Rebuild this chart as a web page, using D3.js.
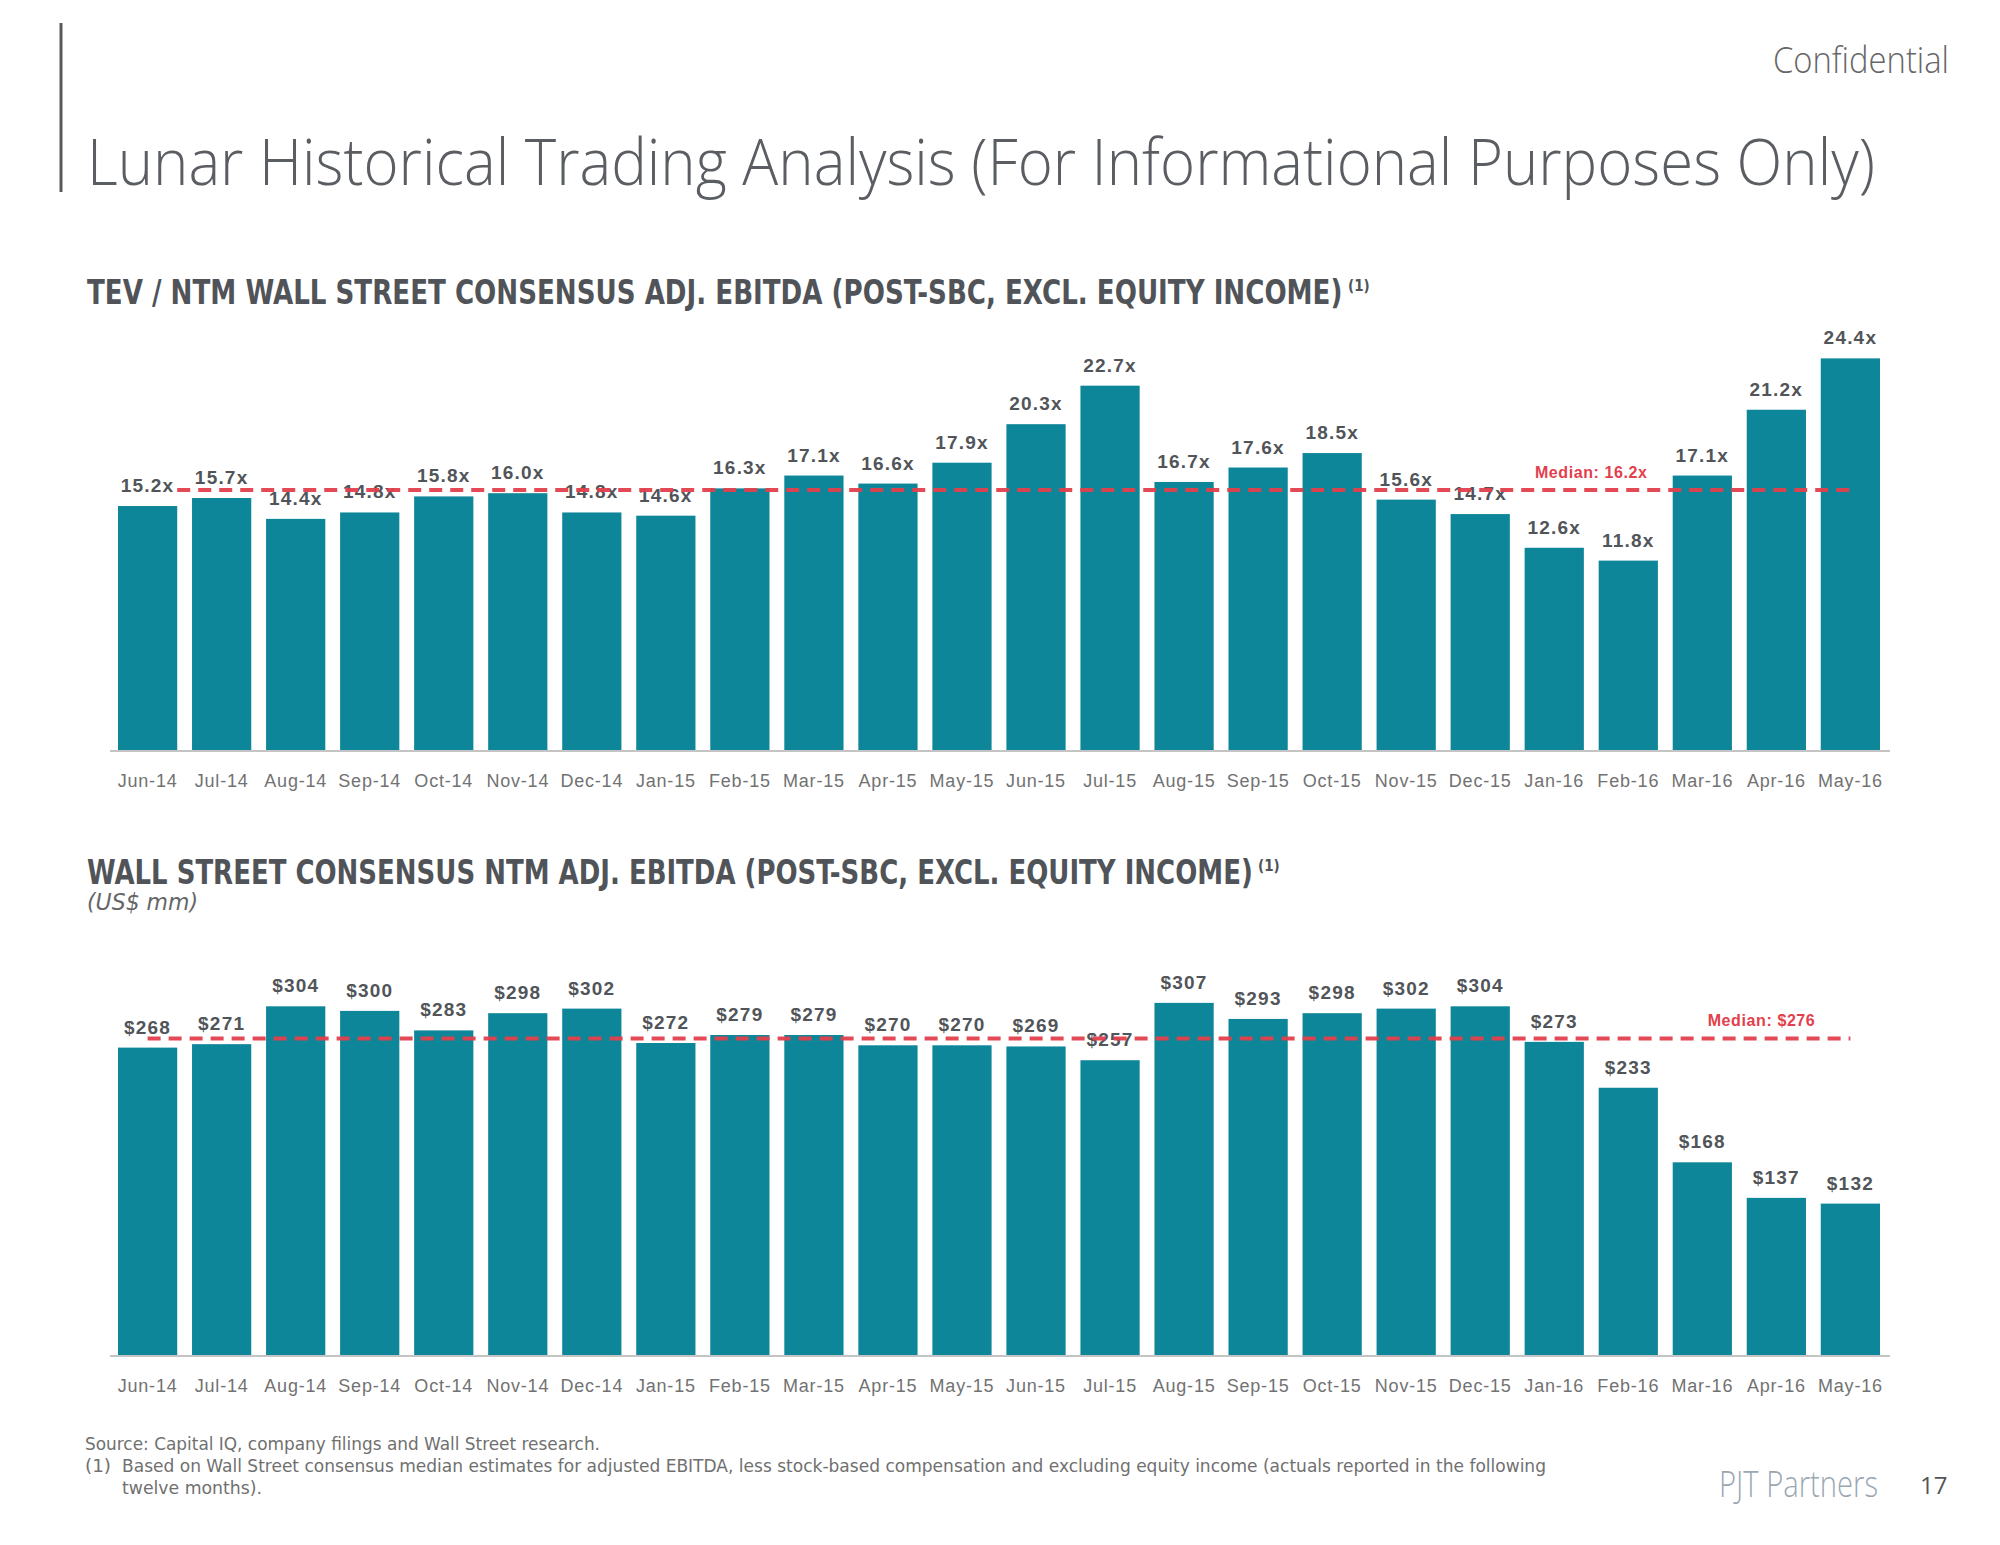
<!DOCTYPE html>
<html>
<head>
<meta charset="utf-8">
<script src="https://cdn.jsdelivr.net/npm/d3@7/dist/d3.min.js"></script>
<style>
  html, body { margin: 0; padding: 0; background: #ffffff; }
  svg { display: block; }
</style>
</head>
<body>
<svg id="chart" width="2000" height="1545"></svg>
<script>
// ---------------- DATA ----------------
const categories = ["Jun-14","Jul-14","Aug-14","Sep-14","Oct-14","Nov-14","Dec-14","Jan-15",
  "Feb-15","Mar-15","Apr-15","May-15","Jun-15","Jul-15","Aug-15","Sep-15","Oct-15","Nov-15",
  "Dec-15","Jan-16","Feb-16","Mar-16","Apr-16","May-16"];
const tevMultiples = [15.2,15.7,14.4,14.8,15.8,16.0,14.8,14.6,16.3,17.1,16.6,17.9,20.3,22.7,
  16.7,17.6,18.5,15.6,14.7,12.6,11.8,17.1,21.2,24.4];
const ebitdaValues = [268,271,304,300,283,298,302,272,279,279,270,270,269,257,307,293,298,302,
  304,273,233,168,137,132];
const tevMedian = 16.2;
const ebitdaMedian = 276;

const pageTitle = "Lunar Historical Trading Analysis (For Informational Purposes Only)";
const chart1Title = "TEV / NTM WALL STREET CONSENSUS ADJ. EBITDA (POST-SBC, EXCL. EQUITY INCOME)";
const chart2Title = "WALL STREET CONSENSUS NTM ADJ. EBITDA (POST-SBC, EXCL. EQUITY INCOME)";
const footnotes = [
  "Source: Capital IQ, company filings and Wall Street research.",
  "Based on Wall Street consensus median estimates for adjusted EBITDA, less stock-based compensation and excluding equity income (actuals reported in the following",
  "twelve months)."
];

// ---------------- STYLE ----------------
const BAR = "#0e869a";
const RED = "#e3404d";
const LABEL = "#515559";
const AXISTXT = "#727272";
const NARROW = "'Liberation Sans Narrow','Arial Narrow','DejaVu Sans Condensed','Liberation Sans',sans-serif";
const SANS = "'Liberation Sans',Arial,sans-serif";
const LIGHT = "'Open Sans','Lato','Noto Sans',sans-serif";

const svg = d3.select("#chart");

// ---------------- HEADER ----------------
svg.append("line").attr("x1", 61).attr("x2", 61).attr("y1", 23).attr("y2", 192)
  .attr("stroke", "#5a5a5a").attr("stroke-width", 3);

svg.append("text").attr("x", 1949).attr("y", 73).attr("text-anchor", "end")
  .attr("font-family", LIGHT).attr("font-weight", 300).attr("font-size", 36)
  .attr("fill", "#666").attr("textLength", 176).attr("lengthAdjust", "spacingAndGlyphs")
  .text("Confidential");

svg.append("text").attr("x", 87).attr("y", 185)
  .attr("font-family", LIGHT).attr("font-weight", 300).attr("font-size", 64)
  .attr("fill", "#5a5d61").attr("textLength", 1788).attr("lengthAdjust", "spacingAndGlyphs")
  .text(pageTitle);

// section title: measured so its natural width equals the target width,
// then stretched vertically to keep the cap height of a 34px font
function sectionTitle(txt, x, y, w) {
  const base = 34;
  const t = svg.append("text").attr("x", 0).attr("y", 0)
    .attr("font-family", NARROW).attr("font-weight", 700).attr("font-size", base)
    .attr("fill", "#505459").text(txt);
  const nat = t.node().getComputedTextLength();
  const fs = base * w / nat;
  t.attr("font-size", fs).attr("transform", `translate(${x},${y}) scale(1,${base / fs})`);
  svg.append("text").attr("x", x + w + 5).attr("y", y - 13)
    .attr("font-family", NARROW).attr("font-weight", 700).attr("font-size", 15)
    .attr("fill", "#505459").text("(1)");
}
sectionTitle(chart1Title, 87, 304, 1256);
sectionTitle(chart2Title, 87, 884, 1166);

svg.append("text").attr("x", 87).attr("y", 910)
  .attr("font-family", NARROW).attr("font-style", "italic").attr("font-size", 23)
  .attr("fill", "#666").attr("textLength", 111).attr("lengthAdjust", "spacingAndGlyphs")
  .text("(US$ mm)");

// ---------------- SCALES ----------------
const x = d3.scaleBand().domain(categories).range([118, 1880]).paddingInner(0.2).paddingOuter(0);
const cx = c => x(c) + x.bandwidth() / 2;

const yTop = d3.scaleLinear().domain([0, 25]).range([750, 750 - 25 * 16.05]);
const yBot = d3.scaleLinear().domain([0, 300]).range([1355, 1355 - 300 * 1.147]);

function drawChart(values, y, fmt, median, medianLabel, medStartX, labelX) {
  const g = svg.append("g");
  const base = y(0);

  // bars
  g.selectAll("rect.bar").data(values).join("rect").attr("class", "bar")
    .attr("x", (d, i) => x(categories[i]))
    .attr("width", x.bandwidth())
    .attr("y", d => y(d))
    .attr("height", d => base - y(d))
    .attr("fill", BAR);

  // baseline
  g.append("line").attr("x1", x.range()[0] - 8).attr("x2", x.range()[1] + 10)
    .attr("y1", base + 1).attr("y2", base + 1)
    .attr("stroke", "#c4c4c4").attr("stroke-width", 2);

  // axis labels
  const axis = d3.axisBottom(x).tickSize(0).tickPadding(24);
  const ag = g.append("g").attr("transform", `translate(0,${base})`).call(axis);
  ag.select(".domain").remove();
  ag.selectAll("text").attr("font-family", SANS).attr("font-size", 18)
    .attr("letter-spacing", 0.8).attr("fill", AXISTXT);

  // value labels
  g.selectAll("text.val").data(values).join("text").attr("class", "val")
    .attr("x", (d, i) => cx(categories[i]))
    .attr("y", d => y(d) - 14)
    .attr("text-anchor", "middle")
    .attr("font-family", SANS).attr("font-weight", 700).attr("font-size", 19)
    .attr("letter-spacing", 1.2)
    .attr("fill", LABEL)
    .text(fmt);

  // median line
  g.append("line").attr("x1", medStartX).attr("x2", cx(categories[categories.length - 1]))
    .attr("y1", y(median)).attr("y2", y(median))
    .attr("stroke", RED).attr("stroke-width", 4).attr("stroke-dasharray", "13,8")
    .attr("opacity", 0.95);

  g.append("text").attr("x", labelX).attr("y", y(median) - 12)
    .attr("text-anchor", "middle")
    .attr("font-family", SANS).attr("font-weight", 700).attr("font-size", 16)
    .attr("letter-spacing", 0.6)
    .attr("fill", RED).text(medianLabel);
}

drawChart(tevMultiples, yTop, d => d.toFixed(1) + "x", tevMedian,
  "Median: " + tevMedian.toFixed(1) + "x",
  x(categories[0]) + x.bandwidth(),
  (cx("Jan-16") + cx("Feb-16")) / 2);

drawChart(ebitdaValues, yBot, d => "$" + d, ebitdaMedian,
  "Median: $" + ebitdaMedian,
  cx(categories[0]),
  cx("Mar-16") + x.step() * 0.8);

// ---------------- FOOTER ----------------
svg.append("text").attr("x", 85).attr("y", 1450)
  .attr("font-family", NARROW).attr("font-size", 18).attr("fill", "#707070")
  .attr("textLength", 515).attr("lengthAdjust", "spacingAndGlyphs").text(footnotes[0]);
svg.append("text").attr("x", 85).attr("y", 1472)
  .attr("font-family", NARROW).attr("font-size", 18).attr("fill", "#707070")
  .attr("textLength", 26).attr("lengthAdjust", "spacingAndGlyphs").text("(1)");
svg.append("text").attr("x", 122).attr("y", 1472)
  .attr("font-family", NARROW).attr("font-size", 18).attr("fill", "#707070")
  .attr("textLength", 1424).attr("lengthAdjust", "spacingAndGlyphs").text(footnotes[1]);
svg.append("text").attr("x", 122).attr("y", 1494)
  .attr("font-family", NARROW).attr("font-size", 18).attr("fill", "#707070")
  .attr("textLength", 140).attr("lengthAdjust", "spacingAndGlyphs").text(footnotes[2]);

svg.append("text").attr("x", 1719).attr("y", 1497)
  .attr("font-family", LIGHT).attr("font-weight", 300).attr("font-size", 36)
  .attr("fill", "#9aa7b3").attr("textLength", 159).attr("lengthAdjust", "spacingAndGlyphs")
  .text("PJT Partners");
svg.append("text").attr("x", 1920).attr("y", 1494)
  .attr("font-family", LIGHT).attr("font-size", 24)
  .attr("fill", "#555").text("17");
</script>
</body>
</html>
